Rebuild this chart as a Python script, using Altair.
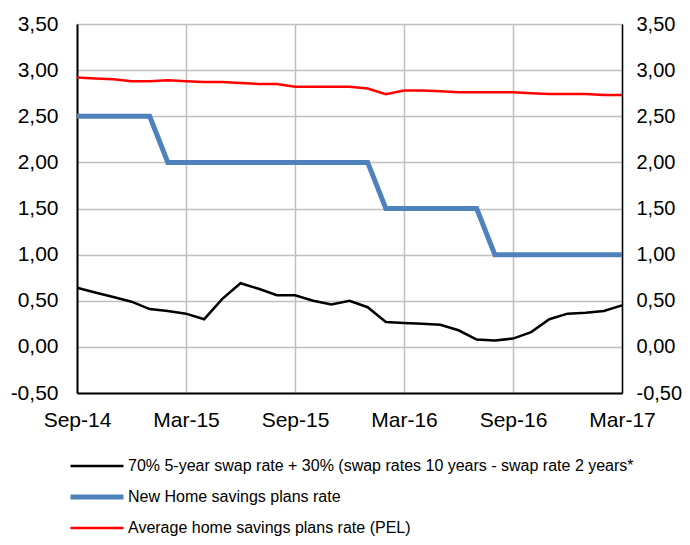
import json
import altair as alt
import pandas as pd

# ---- data ----
months = ["Sep-14", "Oct-14", "Nov-14", "Dec-14", "Jan-15", "Feb-15", "Mar-15",
          "Apr-15", "May-15", "Jun-15", "Jul-15", "Aug-15", "Sep-15", "Oct-15",
          "Nov-15", "Dec-15", "Jan-16", "Feb-16", "Mar-16", "Apr-16", "May-16",
          "Jun-16", "Jul-16", "Aug-16", "Sep-16", "Oct-16", "Nov-16", "Dec-16",
          "Jan-17", "Feb-17", "Mar-17"]
tick_labels = ["Sep-14", "Mar-15", "Sep-15", "Mar-16", "Sep-16", "Mar-17"]
tick_positions = [0, 6, 12, 18, 24, 30]
y_ticks = [-0.5, 0.0, 0.5, 1.0, 1.5, 2.0, 2.5, 3.0, 3.5]

series_names = [
    "70% 5-year swap rate + 30% (swap rates 10 years - swap rate 2 years*",
    "New Home savings plans rate",
    "Average home savings plans rate (PEL)",
]
series_colors = ["#000000", "#4F81BD", "#FF0000"]
series_widths = [2.5, 5, 2.5]

swap_rate = [0.64, 0.59, 0.54, 0.49, 0.41, 0.39, 0.36, 0.30, 0.52, 0.69, 0.63,
             0.56, 0.56, 0.50, 0.46, 0.50, 0.43, 0.27, 0.26, 0.25, 0.24, 0.18,
             0.08, 0.07, 0.09, 0.16, 0.30, 0.36, 0.37, 0.39, 0.45]
new_pel_rate = [2.5, 2.5, 2.5, 2.5, 2.5, 2.0, 2.0, 2.0, 2.0, 2.0, 2.0, 2.0,
                2.0, 2.0, 2.0, 2.0, 2.0, 1.5, 1.5, 1.5, 1.5, 1.5, 1.5, 1.0,
                1.0, 1.0, 1.0, 1.0, 1.0, 1.0, 1.0]
avg_pel_rate = [2.92, 2.91, 2.90, 2.88, 2.88, 2.89, 2.88, 2.87, 2.87, 2.86, 2.85,
                2.85, 2.82, 2.82, 2.82, 2.82, 2.80, 2.74, 2.78, 2.78, 2.77, 2.76,
                2.76, 2.76, 2.76, 2.75, 2.74, 2.74, 2.74, 2.73, 2.73]

rows = []
for name, vals in zip(series_names, [swap_rate, new_pel_rate, avg_pel_rate]):
    for i, (m, v) in enumerate(zip(months, vals)):
        rows.append({"idx": i, "month": m, "series": name, "value": v})
df = pd.DataFrame(rows)

FONT = "Liberation Sans"
x_label_expr = f"{json.dumps(tick_labels)}[indexof({json.dumps(tick_positions)}, datum.value)]"
y_label_expr = "replace(replace(format(datum.value, '.2f'), '.', ','), '\u2212', '-')"

x_scale = alt.Scale(domain=[0, 30], nice=False, zero=False)
y_scale = alt.Scale(domain=[-0.5, 3.5], nice=False, zero=False)

x_axis = alt.Axis(values=tick_positions, labelExpr=x_label_expr, title=None,
                  grid=True, ticks=False, labelPadding=16, labelFlush=False)

legend = alt.Legend(
    orient="none", legendX=-9, legendY=426.5, direction="vertical", title=None,
    symbolType="stroke", symbolSize=2809, labelFontSize=16, labelFont=FONT,
    labelColor="black", labelLimit=700, clipHeight=31, rowPadding=0,
    labelOffset=2, padding=0,
)

lines = alt.Chart(df).mark_line().encode(
    x=alt.X("idx:Q", scale=x_scale, axis=x_axis),
    y=alt.Y("value:Q", scale=y_scale,
            axis=alt.Axis(values=y_ticks, labelExpr=y_label_expr, title=None,
                          grid=True, ticks=False, labelPadding=19)),
    color=alt.Color("series:N", sort=series_names,
                    scale=alt.Scale(domain=series_names, range=series_colors),
                    legend=legend),
    strokeWidth=alt.StrokeWidth("series:N", sort=series_names,
                                scale=alt.Scale(type="ordinal", domain=series_names,
                                                range=series_widths),
                                legend=legend),
    order=alt.Order("idx:Q"),
)

right_axis = alt.Chart(df).mark_line(opacity=0).encode(
    x=alt.X("idx:Q", scale=x_scale, axis=x_axis),
    y=alt.Y("value:Q", scale=y_scale,
            axis=alt.Axis(orient="right", values=y_ticks, labelExpr=y_label_expr,
                          title=None, grid=False, ticks=False, labelPadding=14,
                          labelFontSize=20, domainWidth=1.5)),
    detail="series:N",
)

chart = alt.layer(lines, right_axis).resolve_axis(y="independent").properties(
    width=545, height=369,
    autosize=alt.AutoSizeParams(type="none"),
    padding={"left": 69, "top": 16, "right": 60, "bottom": 144},
).configure_view(stroke="black", strokeWidth=1).configure_axis(
    gridColor="#C0C0C0", gridWidth=1.5, labelFont=FONT, labelFontSize=21,
    labelColor="black", domainColor="black", domainWidth=2,
)

chart.save("out.html", embed_options={"renderer": "svg", "actions": False})
